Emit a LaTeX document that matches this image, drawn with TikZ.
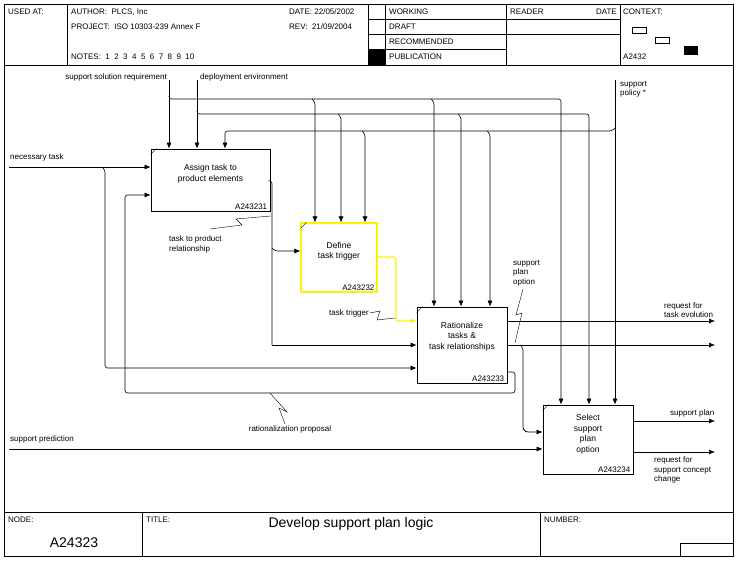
\documentclass[tikz,border=0pt]{standalone}
\usepackage{fontspec}
\setmainfont{Liberation Sans}
\usetikzlibrary{calc,arrows.meta,positioning}

\tikzset{
  box/.style={draw, thick, fill=white, align=center, font=\fontsize{8.5}{10.5}\selectfont, inner sep=0pt},
  arr/.style={-{Latex[length=6pt,width=5pt]}, semithick, rounded corners=2.5pt},
  lin/.style={semithick, rounded corners=2.5pt},
  lbl/.style={font=\fontsize{8}{9.5}\selectfont, align=left, inner sep=1pt},
  hdr/.style={font=\fontsize{8}{9}\selectfont, anchor=west, inner sep=0pt},
}

\begin{document}
\begin{tikzpicture}[x=1pt,y=-1pt]
\useasboundingbox (0,0) rectangle (742,567);
% frame
\draw[thick] (4,4) rectangle (733,556);
\draw[thick] (4,65) -- (733,65);
\draw[thick] (4,512) -- (733,512);
% header
\foreach \hx in {67,368,385,506,620} \draw (\hx,4) -- (\hx,65);
\draw (368,19) -- (620,19);
\draw (368,34) -- (620,34);
\draw (368,49) -- (506,49);
\fill (368,49) rectangle (385,65);
\node[hdr] at (8,12) {USED AT:};
\node[hdr] at (71,12) {AUTHOR:\ \ PLCS, Inc};
\node[hdr] at (71,27) {PROJECT:\ \ ISO 10303-239 Annex F};
\node[hdr] at (71,57) {NOTES:\ \ 1\ \ 2\ \ 3\ \ 4\ \ 5\ \ 6\ \ 7\ \ 8\ \ 9\ \ 10};
\node[hdr] at (289,12) {DATE: 22/05/2002};
\node[hdr] at (289,27) {REV:\ \ 21/09/2004};
\node[hdr] at (389,12) {WORKING};
\node[hdr] at (389,27) {DRAFT};
\node[hdr] at (389,42) {RECOMMENDED};
\node[hdr] at (389,57) {PUBLICATION};
\node[hdr] at (510,12) {READER};
\node[hdr, anchor=east] at (617,12) {DATE};
\node[hdr] at (623,12) {CONTEXT:};
\node[hdr] at (623,57) {A2432};
\draw (632,27) rectangle (646,33);
\draw (655,37) rectangle (669,43);
\fill (684,46) rectangle (698,55);
% footer
\draw[thick] (142,512) -- (142,556);
\draw[thick] (540,512) -- (540,556);
\draw (680,556) -- (680,543) -- (733,543);
\node[hdr] at (8,520) {NODE:};
\node[hdr] at (146,520) {TITLE:};
\node[hdr] at (544,520) {NUMBER:};
\node[font=\fontsize{14}{16}\selectfont] at (74,543) {A24323};
\node[font=\fontsize{14}{16}\selectfont] at (351,524) {Develop support plan logic};

% activity boxes
\node[box, minimum width=119, minimum height=62] (assign) at (210.5,180) {Assign task to\\product elements\\[4pt]};
\node[box, draw=yellow, line width=1.2pt, minimum width=76, minimum height=69] (define) at (339,257.5) {Define\\task trigger\\[4pt]};
\node[box, minimum width=90, minimum height=76] (ration) at (462,345) {Rationalize\\tasks \&\\task relationships\\[8pt]};
\node[box, minimum width=90, minimum height=69] (select) at (588,439.5) {Select\\support\\plan\\option\\[2pt]};
\foreach \b/\n in {assign/A243231, define/A243232, ration/A243233, select/A243234} {
  \node[lbl, anchor=south east] at ($(\b.south east)+(-2,-1)$) {\n};
  \draw ($(\b.north west)+(0,6)$) -- ($(\b.north west)+(6,0)$);
}

% controls
\coordinate (ssr) at (169,80);
\coordinate (dep) at (197,80);
\coordinate (pol) at (615,80);
\node[lbl, anchor=east] at (168,77) {support solution requirement};
\node[lbl, anchor=west] at (199,77) {deployment environment};
\node[lbl, anchor=north west] at (619,80) {support\\policy *};
\draw[arr] (ssr) -- (ssr |- assign.north);
\draw[arr] (dep) -- (dep |- assign.north);
\draw[arr] (ssr |- 0,96) -- (169,99) -- (561,99) -- (561,405 |- select.north);
\draw[arr] (dep |- 0,111) -- (197,114) -- (589,114) -- (589,405 |- select.north);
\draw[arr] (pol) -- (pol |- select.north);
\draw[arr] (615,128) -- (612,131) -- (225,131) -- (225,149 |- assign.north);
\foreach \cx/\cy/\b in {315/99/define, 434/99/ration, 341/114/define, 461/114/ration, 365/131/define, 490/131/ration}
  \draw[arr] (\cx-3,\cy) -- (\cx,\cy+3) -- (\cx,0 |- \b.north);

% inputs
\coordinate (nec) at (9,167);
\coordinate (pred) at (9,449);
\node[lbl, anchor=south west] at (9,162) {necessary task};
\node[lbl, anchor=south west] at (9,444) {support prediction};
\draw[arr] (nec) -- (nec -| assign.west);
\draw[arr] (102,167) -- (105,170) -- (105,368) -- (0,368 -| ration.west);
\draw[arr] (pred) -- (pred -| select.west);

% A1 output
\draw[lin] (assign.east |- 0,181) -- (272,181) -- (272,345);
\draw[arr] (272,345) -- (0,345 -| ration.west);
\draw[arr] (272,248) -- (275,251) -- (0,251 -| define.west);
\node[lbl, anchor=north west] (tpr) at (168,235) {task to product\\relationship};
\draw (210,229) -- (242,225) -- (236,219) -- (271,216);

% A2 output
\draw[arr, yellow, line width=1.2pt] (define.east |- 0,257) -- (396,257) -- (396,321) -- (0,321 -| ration.west);
\node[lbl, anchor=east] (trig) at (370,313) {task trigger};
\draw (370,313) -- (380,311) -- (377,320) -- (395,318);

% feedback
\draw[arr] (ration.east |- 0,372) -- (515,372) -- (515,393) -- (125,393) -- (125,195) -- (0,195 -| assign.west);
\node[lbl, anchor=north] (rat) at (290,425) {rationalization proposal};
\draw (285,424) -- (279,408) -- (287,412) -- (270,393);

% A3 outputs
\draw[arr] (ration.east |- 0,321) -- (715,321);
\draw[arr] (ration.east |- 0,345) -- (715,345);
\draw[arr] (520,345) -- (523,348) -- (523,429) -- (526,432) -- (0,432 -| select.west);
\node[lbl, anchor=south west] at (663,319) {request for\\task evolution};
\node[lbl, anchor=south west] at (512,287) {support\\plan\\option};
\draw (523,289) -- (516,315) -- (522,313) -- (515,343);

% A4 outputs
\draw[arr] (select.east |- 0,421) -- (715,421);
\draw[arr] (select.east |- 0,452) -- (715,452);
\node[lbl, anchor=south west] at (669,418) {support plan};
\node[lbl, anchor=north west] at (653,456) {request for\\support concept\\change};
\end{tikzpicture}
\end{document}
